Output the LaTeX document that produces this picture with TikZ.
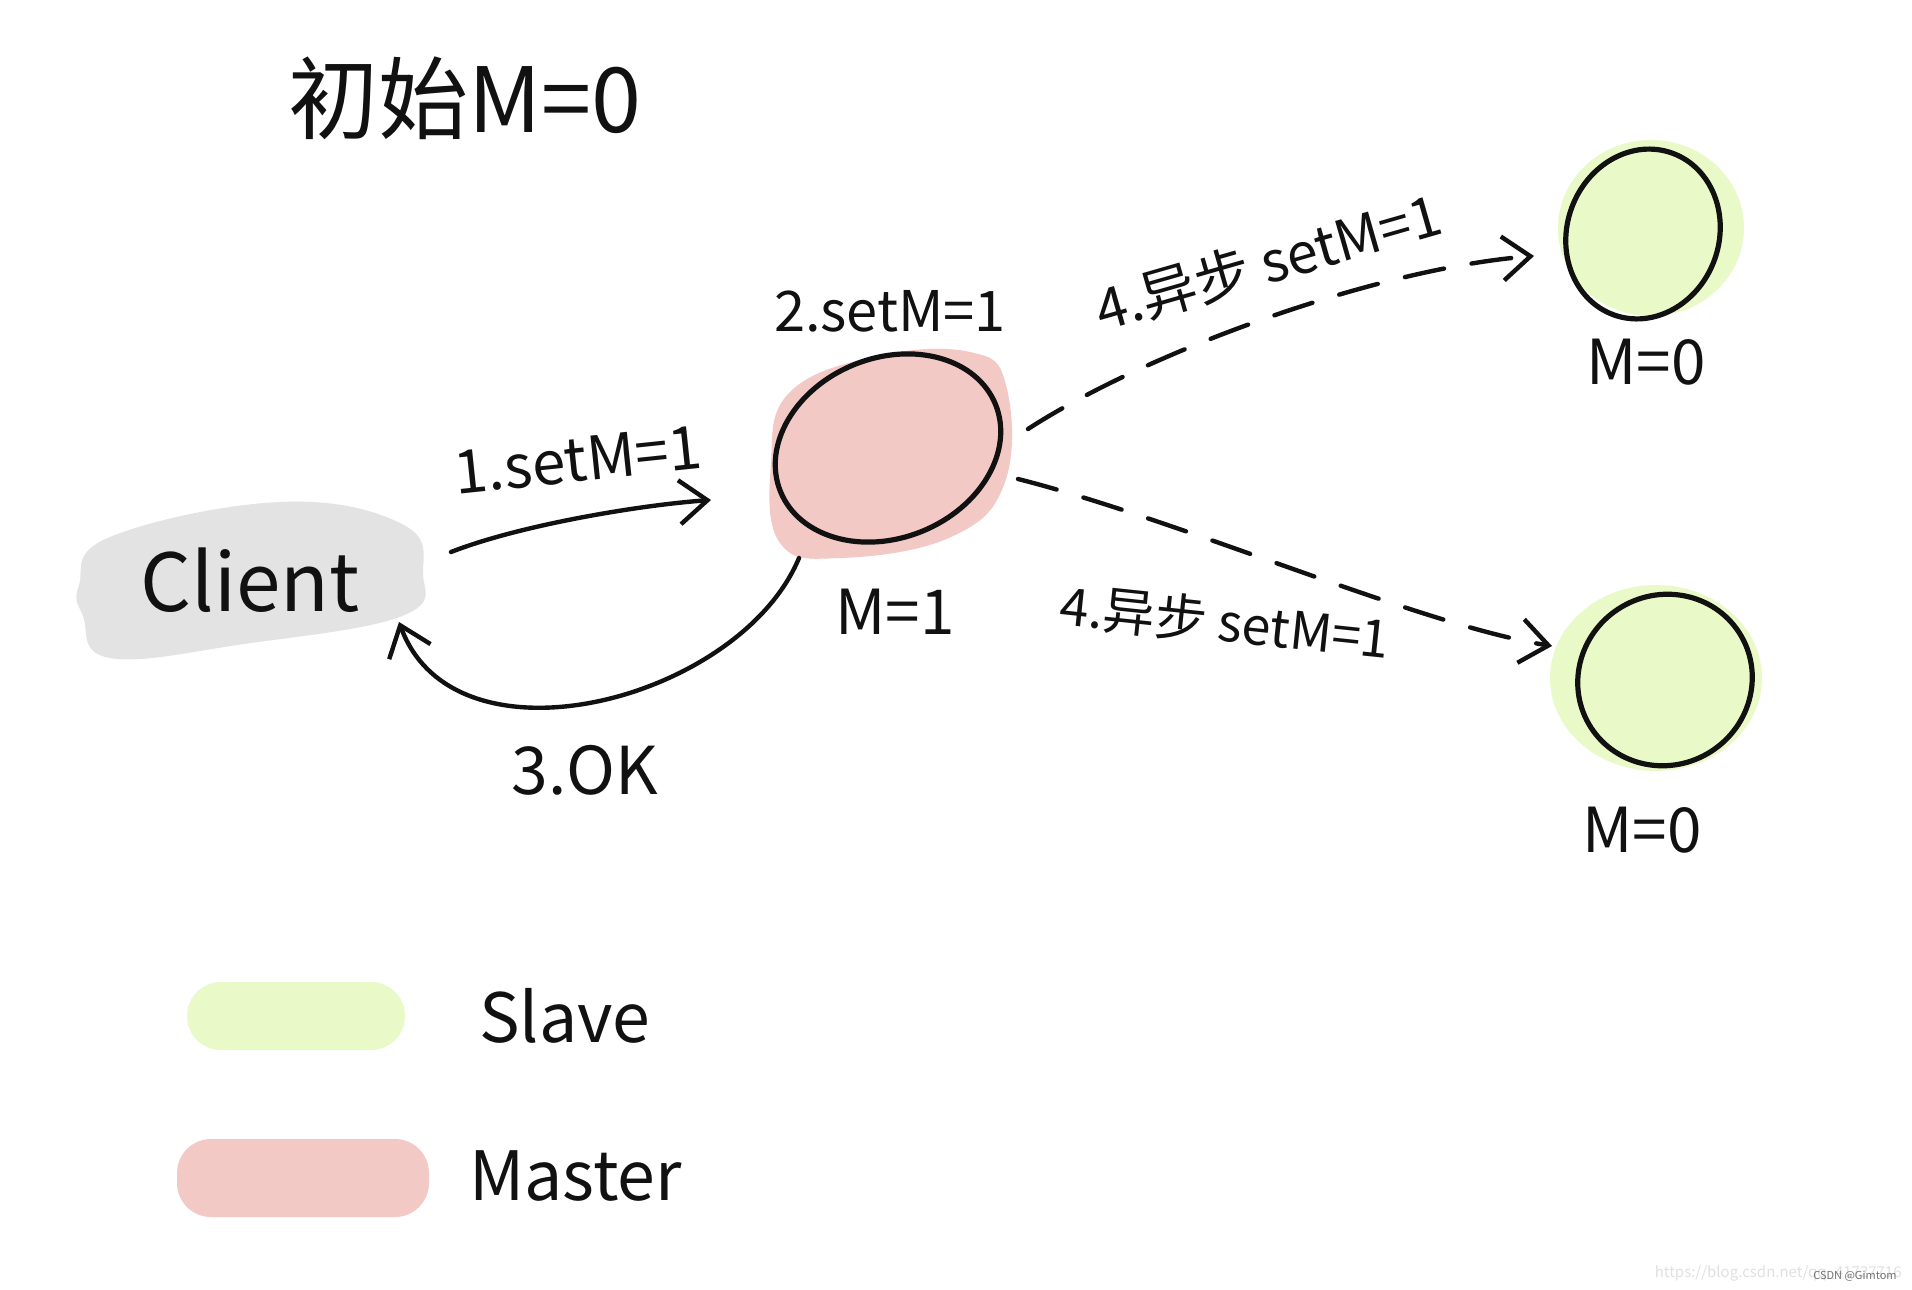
\documentclass[tikz,border=0pt]{standalone}
\usepackage{fontspec}
\setmainfont{Noto Sans CJK SC}
\usetikzlibrary{arrows.meta,shapes.geometric,calc}
\definecolor{slavegreen}{HTML}{EAF9C8}
\definecolor{masterpink}{HTML}{F2C9C5}
\definecolor{clientgray}{HTML}{E3E3E3}
\definecolor{ink}{HTML}{111111}
\tikzset{
  lbl/.style={text=ink, inner sep=0pt, font=\fontsize{#1pt}{#1pt}\selectfont},
  ring/.style={ellipse, draw=ink, line width=2.6pt, inner sep=0pt},
  arr/.style={draw=ink, line width=2.2pt, line cap=round,
    -{Straight Barb[length=14pt,width=22pt,line width=2.2pt]}},
  darr/.style={arr, dash pattern=on 20pt off 14pt},
  legblob/.style={rounded corners=17pt, inner sep=0pt},
}
\begin{document}
\begin{tikzpicture}[x=0.5pt,y=-0.5pt]
\useasboundingbox[fill=white] (0,0) rectangle (1912,1290);

% title
\node[lbl=45] (title) at (465,98) {初始M=0};

% client blob + text
\fill[clientgray] plot[smooth cycle, tension=0.7] coordinates
  {(79,585) (110,537) (280,502) (402,524) (423,573) (402,616) (244,644) (110,658) (83,616)};
\node[lbl=40, minimum width=173pt, minimum height=79pt] (client) at (250,580) {Client};

% master
\fill[masterpink] plot[smooth cycle, tension=0.7] coordinates
  {(790,392) (878,356) (970,352) (1006,385) (1005,482) (951,537) (841,558) (780,543) (771,463)};
\node[ring, minimum width=116pt, minimum height=90pt, rotate=22] (master) at (888,448) {};
\node[lbl=28] (mlabel) at (890,311) {2.setM=1};
\node[lbl=31] (mval) at (895,612) {M=1};

% slave 1
\fill[slavegreen] (1651,228) ellipse [x radius=93, y radius=88];
\node[ring, minimum width=76pt, minimum height=86pt, rotate=-20] (slaveA) at (1643,234) {};
\node[lbl=31] (aval) at (1646,362) {M=0};

% slave 2
\fill[slavegreen] (1656,678) ellipse [x radius=106, y radius=93];
\node[ring, minimum width=88pt, minimum height=85pt, rotate=30] (slaveB) at (1665,680) {};
\node[lbl=31] (bval) at (1642,830) {M=0};

% 1. client -> master
\draw[arr] ($(client)+(201,-28)$) .. controls (520,525) and (640,505) .. ($(master)+(-177,52)$);
\node[lbl=30, rotate=6] (l1) at (578,460) {1.setM=1};

% 3. master -> client
\draw[arr] ($(master)+(-89,110)$) .. controls (740,700) and (455,775) .. ($(client)+(149,42)$);
\node[lbl=33] (l3) at (585,770) {3.OK};

% 4. async to slaves
\draw[darr] ($(master)+(140,-19)$) .. controls (1150,350) and (1380,268) .. ($(slaveA)+(-109,22)$);
\node[lbl=28, rotate=16] (l4a) at (1268,262) {4.异步 setM=1};
\draw[darr] ($(master)+(130,31)$) .. controls (1180,520) and (1420,625) .. ($(slaveB)+(-113,-34)$);
\node[lbl=26, rotate=-6] (l4b) at (1225,622) {4.异步 setM=1};

% legend
\node[legblob, fill=slavegreen, minimum width=109pt, minimum height=34pt] (legS) at (296,1016) {};
\node[lbl=34, anchor=west] (legStext) at (479,1016) {Slave};
\node[legblob, fill=masterpink, minimum width=126pt, minimum height=39pt] (legM) at (303,1178) {};
\node[lbl=34, anchor=west] (legMtext) at (469,1176) {Master};

% watermark
\node[text=black!12, inner sep=0pt, anchor=east, font=\fontsize{7.5pt}{8pt}\selectfont] (url) at (1902,1273) {https://blog.csdn.net/qq\_41727716};
\node[text=black!55, inner sep=0pt, anchor=east, font=\fontsize{5.5pt}{6pt}\selectfont] (wm) at (1897,1276) {CSDN @Gimtom};
\end{tikzpicture}
\end{document}
